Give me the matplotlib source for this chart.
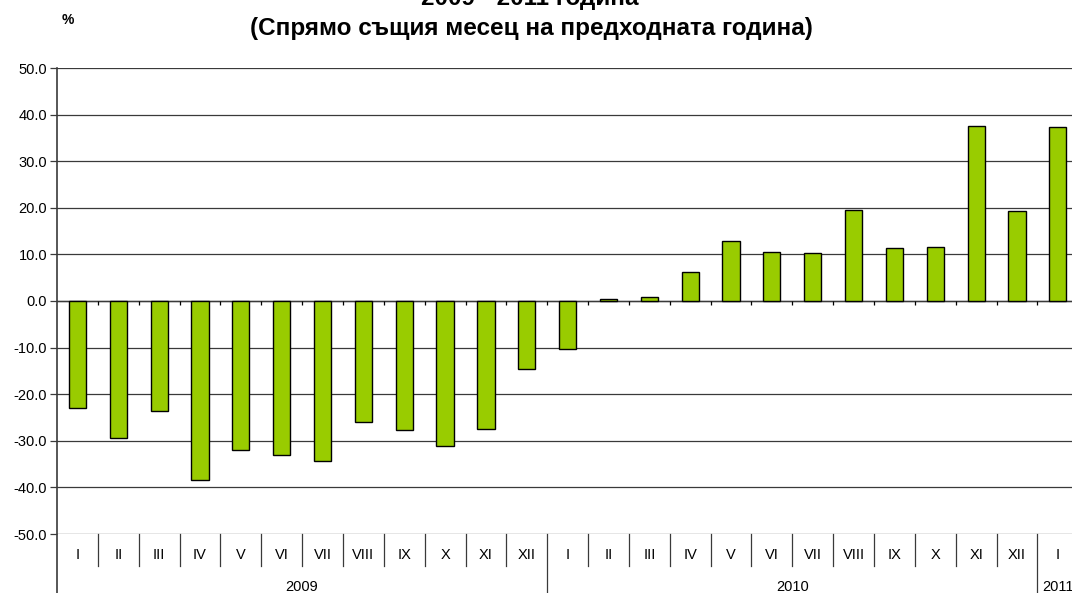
import matplotlib
matplotlib.use("Agg")
import matplotlib.pyplot as plt
import matplotlib.transforms as mtransforms
import numpy as np

plt.rcParams['font.family'] = ['Liberation Sans', 'DejaVu Sans']

months = ["I", "II", "III", "IV", "V", "VI", "VII", "VIII", "IX", "X", "XI", "XII",
          "I", "II", "III", "IV", "V", "VI", "VII", "VIII", "IX", "X", "XI", "XII",
          "I"]
years = ["2009", "2010", "2011"]
year_counts = [12, 12, 1]
values = [-23.0, -29.3, -23.6, -38.4, -31.9, -33.1, -34.4, -26.0, -27.6, -31.1, -27.4, -14.6,
          -10.4, 0.4, 0.9, 6.3, 12.9, 10.6, 10.2, 19.6, 11.3, 11.6, 37.6, 19.4,
          37.4]
title_line1 = "2009 - 2011 година"
title_line2 = "(Спрямо същия месец на предходната година)"
y_ticks = [-50, -40, -30, -20, -10, 0, 10, 20, 30, 40, 50]

W, H = 1072, 593
fig = plt.figure(figsize=(W / 100, H / 100), dpi=100)
fig.patch.set_facecolor('white')

ax_left, ax_right = 57, 57 + 25 * 40.85
ax_top, ax_bot = 68, 534
ax = fig.add_axes([ax_left / W, 1 - ax_bot / H, (ax_right - ax_left) / W, (ax_bot - ax_top) / H])

n = len(values)
x = np.arange(n)
ax.set_xlim(-0.5, n - 0.5)
ax.set_ylim(-50, 50)

grid_col = '#3a3a3a'
for yv in y_ticks:
    ax.axhline(yv, color=grid_col, lw=0.9, zorder=1)

ax.bar(x, values, width=0.42, color='#99CC00', edgecolor='black', linewidth=1.0, zorder=3)

# zero axis line with downward tick marks at category boundaries
ax.axhline(0, color=grid_col, lw=1.0, zorder=2)
bounds = np.arange(n - 1) + 0.5
ax.vlines(bounds, -0.9, 0, color='black', lw=0.9, zorder=2)

for s in ['top', 'right', 'bottom', 'left']:
    ax.spines[s].set_visible(False)

ax.set_yticks(y_ticks)
ax.set_yticklabels([f"{v:.1f}" for v in y_ticks], fontsize=10.5)
ax.tick_params(axis='y', direction='out', length=5, width=0.9, color=grid_col, pad=2)
ax.set_xticks([])

# left axis line extending to bottom of the figure
ax.plot([0, 0], [1, -0.13], transform=ax.transAxes, color=grid_col, lw=1.2, clip_on=False, zorder=4)

trans = mtransforms.blended_transform_factory(ax.transData, ax.transAxes)
ah = ax_bot - ax_top
month_y = -(555 - ax_bot) / ah
sep_month = -(566 - ax_bot) / ah
year_y = -(587 - ax_bot) / ah
sep_year = -(H + 2 - ax_bot) / ah

for i, m in enumerate(months):
    ax.text(i, month_y, m, transform=trans, ha='center', va='center', fontsize=10.5, clip_on=False)

start = 0
year_bounds = []
for yr, c in zip(years, year_counts):
    ax.text(start + (c - 1) / 2, year_y, yr, transform=trans, ha='center', va='center',
            fontsize=10.5, clip_on=False)
    start += c
    year_bounds.append(start - 0.5)

for b in bounds:
    if b in year_bounds:
        ax.plot([b, b], [0, sep_year], transform=trans, color=grid_col, lw=0.9, clip_on=False)
    else:
        ax.plot([b, b], [0, sep_month], transform=trans, color=grid_col, lw=0.9, clip_on=False)

fig.text(530 / W, 1 - 5 / H, title_line1, ha='center', va='baseline', fontsize=17.5, fontweight='bold')
fig.text(531 / W, 1 - 35 / H, title_line2, ha='center', va='baseline', fontsize=17.5, fontweight='bold')
fig.text(68 / W, 1 - 20 / H, "%", ha='center', va='center', fontsize=10, fontweight='bold')

fig.savefig("out.png", dpi=100, facecolor='white')
